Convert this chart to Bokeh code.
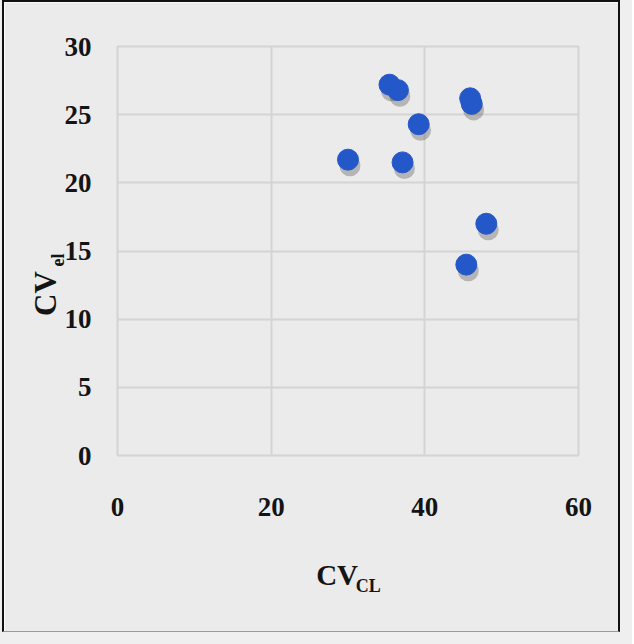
from bokeh.plotting import figure
from bokeh.models import Range1d, FixedTicker, LinearAxis, ColumnDataSource
from bokeh.transform import dodge
from bokeh.embed import file_html
from bokeh.resources import INLINE

# data
cv_cl = [30.0, 35.4, 36.5, 39.2, 37.1, 45.9, 46.1, 48.0, 45.4]
cv_el = [21.7, 27.2, 26.8, 24.3, 21.5, 26.2, 25.8, 17.0, 14.0]
x_ticks = [0, 20, 40, 60]
y_ticks = [0, 5, 10, 15, 20, 25, 30]

FONT = "Liberation Serif"
BG = "#ebebeb"
GRID = "#d4d4d4"
DOT = "#2458c8"
INK = "#141414"
NB = "\u00a0"

src = ColumnDataSource(dict(x=cv_cl, y=cv_el))

p = figure(width=618, height=632, output_backend="svg", toolbar_location=None,
           x_range=Range1d(0, 60), y_range=Range1d(0, 30),
           min_border_left=113, min_border_top=44, min_border_right=44, min_border_bottom=179)
p.background_fill_color = BG
p.border_fill_color = BG
p.outline_line_color = GRID
p.outline_line_width = 2
p.styles = {"margin-left": "2px",
            "border-top": "2px solid #111", "border-left": "2px solid #111",
            "border-right": "2px solid #111", "border-bottom": "1px solid #999",
            "box-shadow": "0 0 0 12px #efefef"}

p.xaxis.ticker = FixedTicker(ticks=x_ticks)
p.yaxis.ticker = FixedTicker(ticks=y_ticks)
for ax in (p.xaxis, p.yaxis):
    ax.axis_line_color = None
    ax.major_tick_line_color = None
    ax.minor_tick_line_color = None
    ax.major_label_text_font = FONT
    ax.major_label_text_font_style = "bold"
    ax.major_label_text_font_size = "27px"
    ax.major_label_text_color = INK
    ax.axis_label_text_font = FONT
    ax.axis_label_text_font_style = "bold"
    ax.axis_label_text_color = INK
p.xaxis.major_label_standoff = 36
p.yaxis.major_label_standoff = 20

# main part of the axis titles ("CV") and their subscripts on tick-less extra axes
p.xaxis.axis_label = "CV" + NB * 3
p.xaxis.axis_label_text_font_size = "29px"
p.xaxis.axis_label_standoff = 40

p.yaxis.axis_label = "el" + NB * 4
p.yaxis.axis_label_text_font_size = "18px"
p.yaxis.axis_label_standoff = -6

x_sub = LinearAxis(ticker=FixedTicker(ticks=[]), axis_line_color=None,
                   major_tick_line_color=None, minor_tick_line_color=None,
                   axis_label=NB * 9 + "CL", axis_label_text_font=FONT,
                   axis_label_text_font_style="bold", axis_label_text_font_size="18px",
                   axis_label_text_color=INK, axis_label_standoff=-18)
p.add_layout(x_sub, "below")

y_main = LinearAxis(ticker=FixedTicker(ticks=[]), axis_line_color=None,
                    major_tick_line_color=None, minor_tick_line_color=None,
                    axis_label="CV" + NB * 11, axis_label_text_font=FONT,
                    axis_label_text_font_style="bold", axis_label_text_font_size="31px",
                    axis_label_text_color=INK, axis_label_standoff=-18)
p.add_layout(y_main, "left")

p.xgrid.grid_line_color = GRID
p.ygrid.grid_line_color = GRID
p.xgrid.grid_line_width = 2
p.ygrid.grid_line_width = 2

# soft shadow + dots
p.scatter(x=dodge("x", 0.25, range=p.x_range), y=dodge("y", -0.45, range=p.y_range),
          source=src, size=21, fill_color="#2a2a2a", fill_alpha=0.28, line_color=None)
p.scatter(x="x", y="y", source=src, size=21, fill_color=DOT, line_color=DOT)

open("out.html", "w").write(file_html(p, INLINE))
